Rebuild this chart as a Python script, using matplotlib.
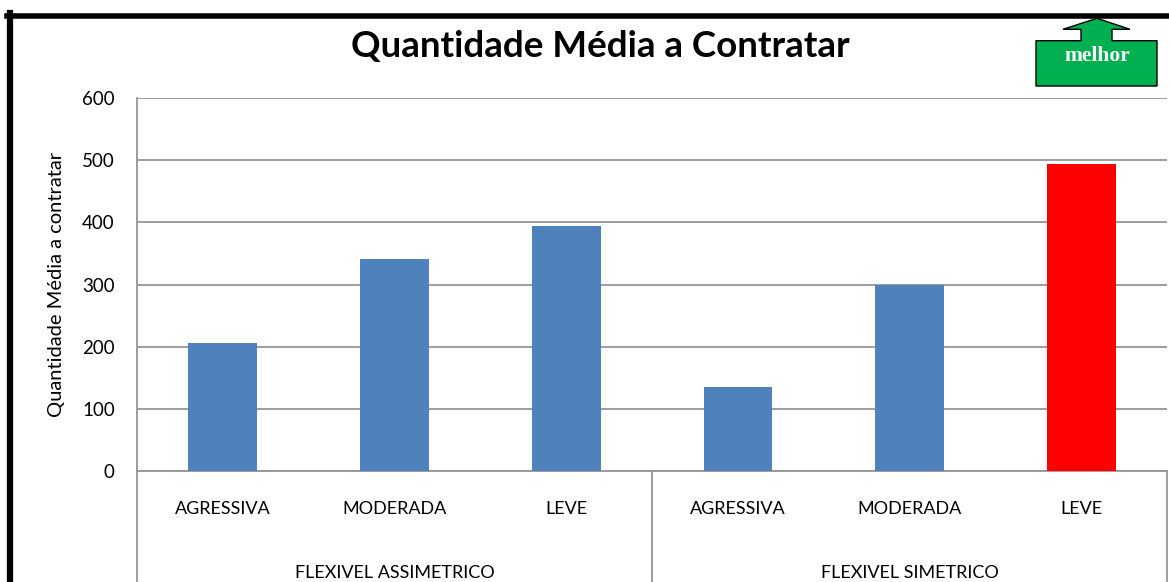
import matplotlib
matplotlib.use("Agg")
import matplotlib.pyplot as plt
from matplotlib.lines import Line2D
from matplotlib.patches import Polygon

# data
groups = ["FLEXIVEL ASSIMETRICO", "FLEXIVEL SIMETRICO"]
levels = ["AGRESSIVA", "MODERADA", "LEVE"]
assim_values = [206, 341, 394]
sim_values = [135, 299, 494]
bar_colors = ["#4F81BD"] * 5 + ["#FF0000"]

plt.rcParams["font.family"] = ["Lato", "DejaVu Sans"]

W, H = 1169, 582
fig = plt.figure(figsize=(W / 100, H / 100), dpi=100)
ax = fig.add_axes([137 / W, 1 - 471 / H, 1030 / W, 373 / H])

values = assim_values + sim_values
x = list(range(len(values)))
ax.bar(x, values, width=0.4, color=bar_colors, zorder=3)

ax.set_xlim(-0.5, len(values) - 0.5)
ax.set_ylim(0, 600)
ax.set_yticks(range(0, 601, 100))
ax.set_xticks([])
ax.tick_params(axis="y", length=0, pad=16, labelsize=13.5)
ax.grid(axis="y", color="#959595", lw=1.3, zorder=0)
for s in ["top", "right"]:
    ax.spines[s].set_visible(False)
for s in ["left", "bottom"]:
    ax.spines[s].set_color("#959595")
    ax.spines[s].set_linewidth(1.3)
ax.set_ylabel("Quantidade Média a contratar", fontsize=14.5, labelpad=12)

# two-level category labels
tr = ax.get_xaxis_transform()
cat_labels = levels + levels
for xi, lab in zip(x, cat_labels):
    ax.text(xi, -0.102, lab, transform=tr, ha="center", va="center", fontsize=13)
for gi, g in enumerate(groups):
    ax.text(gi * 3 + 1, -0.273, g, transform=tr, ha="center", va="center", fontsize=13)
for xs in [-0.5, 2.5, 5.5]:
    ax.add_line(Line2D([xs, xs], [0, -0.32], transform=tr, color="#959595",
                       lw=1.3, clip_on=False))

fig.text(600 / W, 1 - 47 / H, "Quantidade Média a Contratar", ha="center",
         va="center", fontsize=26.5, fontweight="bold")

# "melhor" arrow box
pts = [(1036, 86), (1036, 40.7), (1081, 40.7), (1081, 29.3), (1063, 29.3),
       (1097, 18.3), (1130, 29.3), (1112, 29.3), (1112, 40.7), (1157, 40.7),
       (1157, 86)]
pts = [(px / W, 1 - py / H) for px, py in pts]
fig.add_artist(Polygon(pts, closed=True, facecolor="#00B050", edgecolor="black",
                       lw=1, transform=fig.transFigure))
fig.text(1097 / W, 1 - 56 / H, "melhor", ha="center", va="center", color="white",
         fontsize=15.5, fontweight="bold", family="Liberation Serif")

# black frame on top and left
fig.add_artist(Line2D([7 / W, 1], [1 - 15.8 / H] * 2, color="black", lw=4,
                      transform=fig.transFigure))
fig.add_artist(Line2D([10 / W] * 2, [0, 1 - 13.3 / H], color="black", lw=4.5,
                      transform=fig.transFigure))

fig.savefig("out.png", dpi=100)
